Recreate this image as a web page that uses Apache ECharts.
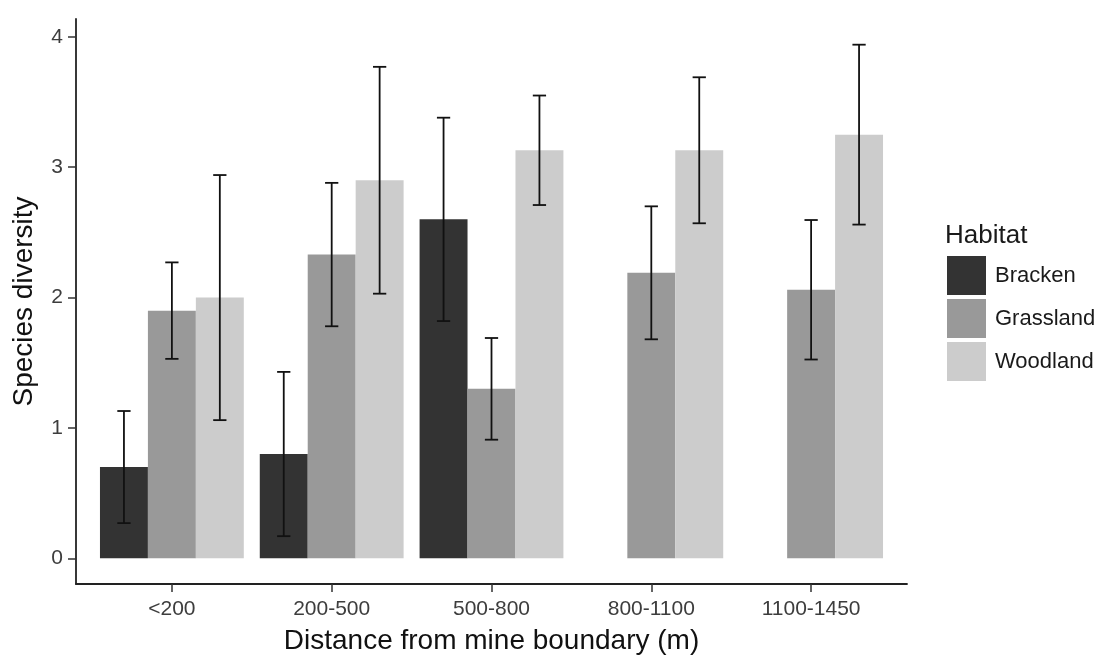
<!DOCTYPE html>
<html>
<head>
<meta charset="utf-8">
<script src="https://cdn.jsdelivr.net/npm/echarts@6/dist/echarts.min.js"></script>
<style>
html,body{margin:0;padding:0;background:#fff;}
#chart{width:1106px;height:660px;}
</style>
</head>
<body>
<div id="chart"></div>
<script>
// ---- data ----
const categories = ['<200', '200-500', '500-800', '800-1100', '1100-1450'];
const habitats = ['Bracken', 'Grassland', 'Woodland'];
const bracken = [0.70, 0.80, 2.60, null, null];
const brackenErr = [0.43, 0.63, 0.78, null, null];
const grassland = [1.90, 2.33, 1.30, 2.19, 2.06];
const grasslandErr = [0.37, 0.55, 0.39, 0.51, 0.535];
const woodland = [2.00, 2.90, 3.13, 3.13, 3.25];
const woodlandErr = [0.94, 0.87, 0.42, 0.56, 0.69];
const yTicks = [0, 1, 2, 3, 4];
const colors = ['#333333', '#999999', '#cccccc'];

const FONT = '"Liberation Sans", Arial, sans-serif';
const values = [bracken, grassland, woodland];
const errs = [brackenErr, grasslandErr, woodlandErr];

// ggplot-like expansions
let hi = 0;
values.forEach((arr, k) => arr.forEach((v, i) => { if (v != null) hi = Math.max(hi, v + errs[k][i]); }));
const yMin = -0.05 * hi, yMax = hi * 1.05;
const xPositions = categories.map((c, i) => i + 1);

const dodge = 0.9, nGroups = 3, barW = dodge / nGroups, capW = 0.083;

function makeSeries(k) {
  const data = [];
  values[k].forEach((v, i) => {
    if (v != null) data.push([xPositions[i], v, errs[k][i]]);
  });
  const off = (k - 1) * barW;
  return {
    name: habitats[k],
    type: 'custom',
    itemStyle: { color: colors[k] },
    data: data,
    renderItem: function (params, api) {
      const x = api.value(0) + off;
      const v = api.value(1);
      const e = api.value(2);
      const tl = api.coord([x - barW / 2, v]);
      const br = api.coord([x + barW / 2, 0]);
      const top = api.coord([x, v + e]);
      const bot = api.coord([x, v - e]);
      const cl = api.coord([x - capW / 2, v])[0];
      const cr = api.coord([x + capW / 2, v])[0];
      const ls = { stroke: '#111', lineWidth: 1.8 };
      return {
        type: 'group',
        children: [
          { type: 'rect', shape: { x: tl[0], y: tl[1], width: br[0] - tl[0], height: br[1] - tl[1] }, style: { fill: colors[k] } },
          { type: 'line', shape: { x1: top[0], y1: top[1], x2: bot[0], y2: bot[1] }, style: ls },
          { type: 'line', shape: { x1: cl, y1: top[1], x2: cr, y2: top[1] }, style: ls },
          { type: 'line', shape: { x1: cl, y1: bot[1], x2: cr, y2: bot[1] }, style: ls }
        ]
      };
    }
  };
}

const chart = echarts.init(document.getElementById('chart'), null, { renderer: 'canvas' });
chart.setOption({
  animation: false,
  backgroundColor: '#ffffff',
  textStyle: { fontFamily: FONT },
  grid: { left: 76, right: 199, top: 19, bottom: 75, containLabel: false },
  title: {
    text: 'Habitat',
    left: 945, top: 223,
    textStyle: { fontFamily: FONT, fontSize: 26, fontWeight: 'normal', color: '#1a1a1a' },
    padding: 0
  },
  legend: {
    orient: 'vertical',
    left: 947, top: 256,
    padding: 0,
    itemWidth: 39, itemHeight: 39, itemGap: 4,
    icon: 'rect',
    selectedMode: false,
    data: habitats,
    textStyle: { fontFamily: FONT, fontSize: 22, color: '#1a1a1a', padding: [0, 0, 0, 4] }
  },
  xAxis: {
    type: 'value',
    min: 0.4, max: 5.6,
    name: 'Distance from mine boundary (m)',
    nameLocation: 'middle', nameGap: 43,
    nameTextStyle: { fontFamily: FONT, fontSize: 28, color: '#111' },
    axisLine: { show: true, onZero: false, lineStyle: { color: '#222', width: 1.8 } },
    axisTick: { show: true, customValues: xPositions, length: 8, lineStyle: { color: '#333', width: 1.5 } },
    axisLabel: {
      customValues: xPositions, margin: 15,
      fontFamily: FONT, fontSize: 21, color: '#3d3d3d',
      formatter: function (v) { return categories[Math.round(v) - 1]; }
    },
    splitLine: { show: false }
  },
  yAxis: {
    type: 'value',
    min: yMin, max: yMax,
    name: 'Species diversity',
    nameLocation: 'middle', nameGap: 38,
    nameTextStyle: { fontFamily: FONT, fontSize: 28, color: '#111' },
    axisLine: { show: true, onZero: false, lineStyle: { color: '#222', width: 1.8 } },
    axisTick: { show: true, customValues: yTicks, length: 8, lineStyle: { color: '#333', width: 1.5 } },
    axisLabel: { customValues: yTicks, margin: 13, fontFamily: FONT, fontSize: 21, color: '#3d3d3d' },
    splitLine: { show: false }
  },
  series: [makeSeries(0), makeSeries(1), makeSeries(2)]
});
</script>
</body>
</html>
